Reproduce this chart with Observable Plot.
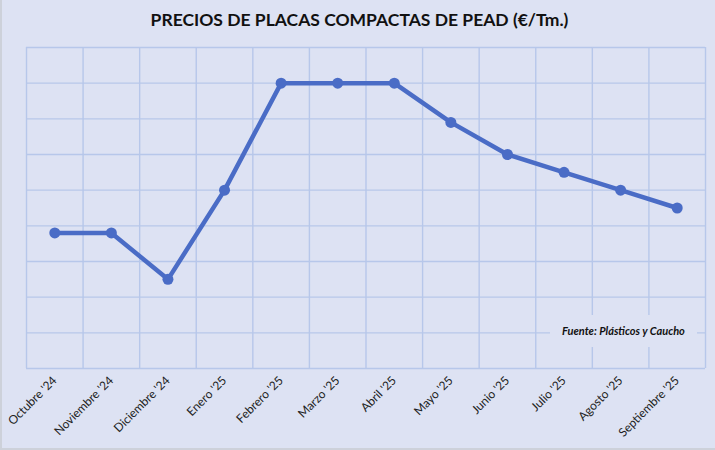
<!DOCTYPE html>
<html>
<head>
<meta charset="utf-8">
<script src="https://cdn.jsdelivr.net/npm/d3@7"></script>
<script src="https://cdn.jsdelivr.net/npm/@observablehq/plot@0.6"></script>
<style>
  html, body { margin: 0; padding: 0; background: #dde2f3; }
  #wrap { position: relative; width: 715px; height: 450px; background: #dde2f3; box-sizing: border-box; border-left: 2px solid #cdd1da; border-bottom: 2px solid #cdd1da; overflow: hidden; }
  #title { position: absolute; left: 0; top: 0; width: 715px; height: 40px; text-align: center; font-family: Lato, "Open Sans", sans-serif; font-weight: 700; font-size: 17.5px; line-height: 40px; color: #111; }
  #chart { position: absolute; left: -2px; top: 40px; }
  #source { position: absolute; left: 548px; top: 315px; width: 147px; height: 32px; background: #dde2f3; font-family: Lato, "Open Sans", sans-serif; font-weight: 700; font-style: italic; font-size: 11px; line-height: 32px; text-align: center; color: #111; }
</style>
</head>
<body>
<div id="wrap">
  <div id="title">PRECIOS DE PLACAS COMPACTAS DE PEAD (€/Tm.)</div>
  <div id="chart"></div>
  <div id="source">Fuente: Plásticos y Caucho</div>
</div>
<script>
const months = ["Octubre '24", "Noviembre '24", "Diciembre '24", "Enero '25", "Febrero '25", "Marzo '25", "Abril '25", "Mayo '25", "Junio '25", "Julio '25", "Agosto '25", "Septiembre '25"];
const prices = [3.8, 3.8, 2.5, 5.0, 8.0, 8.0, 8.0, 6.9, 6.0, 5.5, 5.0, 4.5];
const yGrid = [0, 1, 2, 3, 4, 5, 6, 7, 8, 9];

const data = months.map((m, i) => ({ i: i + 0.5, month: m, value: prices[i] }));
const xEdges = d3.range(months.length + 1);

const lineColor = "#4a6cc6";
const gridColor = "#b7c7ea";

const chart = Plot.plot({
  width: 715,
  height: 410,
  marginTop: 7,
  marginBottom: 82,
  marginLeft: 26,
  marginRight: 10,
  style: { background: "transparent", fontFamily: "Lato, 'Open Sans', sans-serif", fontSize: "12px", color: "#222" },
  x: { domain: [0, months.length], axis: null },
  y: { domain: [0, 9], axis: null },
  marks: [
    Plot.ruleY(yGrid, { stroke: gridColor, strokeWidth: 1.4 }),
    Plot.ruleX(xEdges, { stroke: gridColor, strokeWidth: 1.4 }),
    Plot.axisX(data.map(d => d.i), {
      tickFormat: (v) => months[Math.floor(v)],
      tickRotate: -45,
      tickSize: 0,
      tickPadding: 10,
      fontSize: 12,
      fill: "#222",
      label: null
    }),
    Plot.line(data, { x: "i", y: "value", stroke: lineColor, strokeWidth: 4.5, strokeLinejoin: "round" }),
    Plot.dot(data, { x: "i", y: "value", r: 5.5, fill: lineColor, stroke: null })
  ]
});
document.getElementById("chart").appendChild(chart);
</script>
</body>
</html>
